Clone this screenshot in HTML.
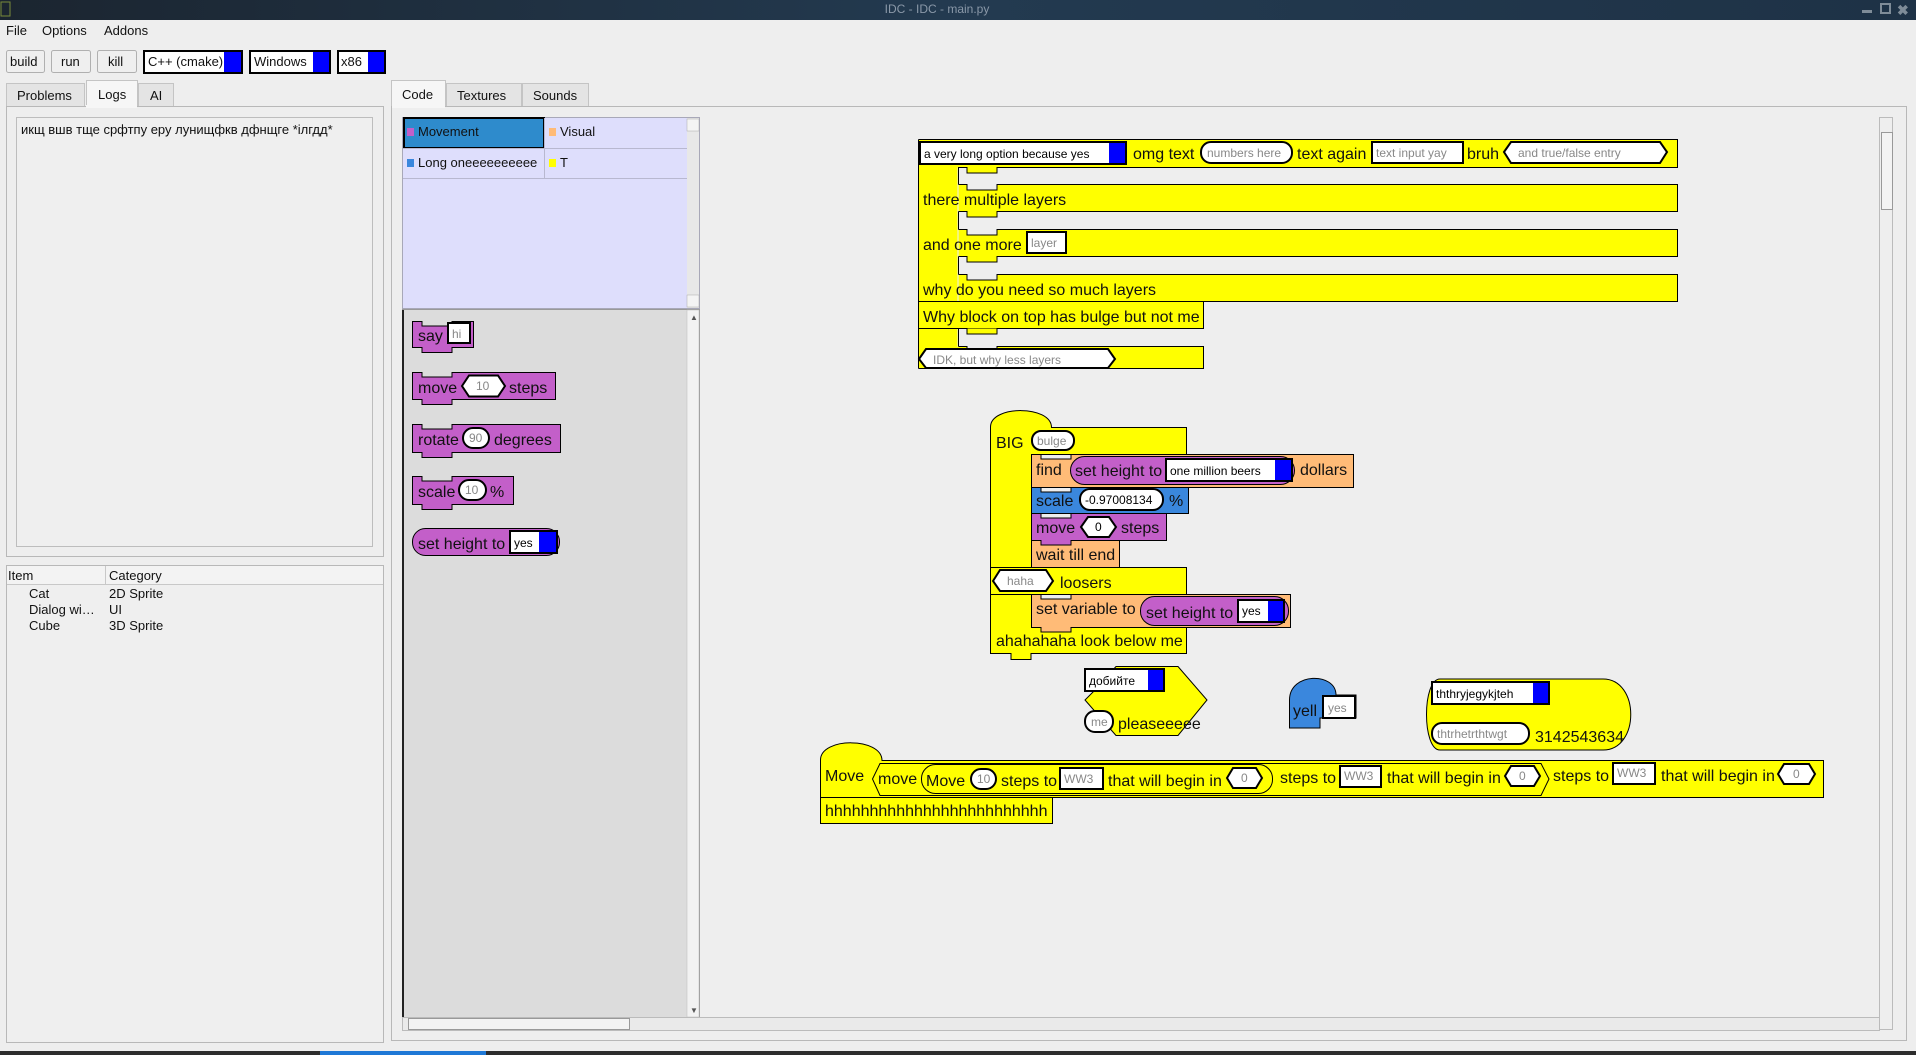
<!DOCTYPE html>
<html><head><meta charset="utf-8"><style>
html,body{margin:0;padding:0;width:1916px;height:1055px;overflow:hidden;background:#eeeeee}
svg{display:block}
.ui{font-family:"Liberation Sans","DejaVu Sans",sans-serif;font-size:13px;fill:#111}
.b{font-family:"Liberation Sans",sans-serif;font-size:16px;fill:#111}
.in{font-family:"Liberation Sans",sans-serif;font-size:12px;fill:#888}
.dd{font-family:"Liberation Sans",sans-serif;font-size:12px;fill:#000}
</style></head><body>
<svg width="1916" height="1055" viewBox="0 0 1916 1055" xmlns="http://www.w3.org/2000/svg">
<defs><linearGradient id="tg" x1="0" x2="1"><stop offset="0" stop-color="#1b2530"/><stop offset="0.5" stop-color="#233a50"/><stop offset="1" stop-color="#1e3246"/></linearGradient></defs>
<!-- title bar -->
<rect x="0" y="0" width="1916" height="20" fill="url(#tg)"/>
<rect x="1" y="2" width="9" height="14" fill="none" stroke="#7a8a3a"/>
<text x="937" y="13" text-anchor="middle" style="font-family:'Liberation Sans',sans-serif;font-size:12px;fill:#8a98a8">IDC - IDC - main.py</text>
<rect x="1862" y="10" width="10" height="3" fill="#7f8c98"/>
<rect x="1881" y="4" width="9" height="9" fill="none" stroke="#7f8c98" stroke-width="2"/>
<text x="1897" y="15" style="font-family:sans-serif;font-size:14px;fill:#7f8c98;font-weight:bold">✖</text>
<!-- menu -->
<text class="ui" x="6" y="35">File</text><text class="ui" x="42" y="35">Options</text><text class="ui" x="104" y="35">Addons</text>
<!-- toolbar -->
<rect x="6.5" y="50.5" width="38" height="22" rx="2" fill="#efefef" stroke="#b0b0b0"/><text class="ui" x="10" y="66">build</text>
<rect x="51.5" y="50.5" width="39" height="22" rx="2" fill="#efefef" stroke="#b0b0b0"/><text class="ui" x="61" y="66">run</text>
<rect x="97.5" y="50.5" width="39" height="22" rx="2" fill="#efefef" stroke="#b0b0b0"/><text class="ui" x="108" y="66">kill</text>
<rect x="144" y="51" width="98" height="22" fill="#fff" stroke="#000" stroke-width="2"/><rect x="224" y="52" width="17" height="20" fill="#0000ff"/><text class="ui" x="148" y="66">C++ (cmake)</text>
<rect x="250" y="51" width="80" height="22" fill="#fff" stroke="#000" stroke-width="2"/><rect x="313" y="52" width="16" height="20" fill="#0000ff"/><text class="ui" x="254" y="66">Windows</text>
<rect x="338" y="51" width="47" height="22" fill="#fff" stroke="#000" stroke-width="2"/><rect x="368" y="52" width="16" height="20" fill="#0000ff"/><text class="ui" x="341" y="66">x86</text>
<!-- left tabs -->
<rect x="6.5" y="83.5" width="78" height="23" fill="#e4e4e4" stroke="#c4c4c4"/><text class="ui" x="17" y="100">Problems</text>
<rect x="86.5" y="80.5" width="51" height="26" fill="#f6f6f6" stroke="#c4c4c4"/><text class="ui" x="98" y="99">Logs</text>
<rect x="138.5" y="83.5" width="35" height="23" fill="#e4e4e4" stroke="#c4c4c4"/><text class="ui" x="150" y="100">AI</text>
<rect x="6.5" y="106.5" width="377" height="450" fill="#eeeeee" stroke="#b8b8b8"/>
<rect x="86" y="105" width="51" height="3" fill="#f6f6f6"/>
<rect x="16.5" y="117.5" width="356" height="429" fill="#efefef" stroke="#bdbdbd"/>
<text class="ui" x="21" y="134">икщ вшв тще срфтпу еру лунищфкв дфнщге *ілгдд*</text>
<!-- tree -->
<rect x="6.5" y="565.5" width="377" height="477" fill="#efefef" stroke="#b8b8b8"/>
<rect x="7" y="566" width="376" height="18" fill="#f3f3f3"/><line x1="7" y1="584.5" x2="383" y2="584.5" stroke="#c8c8c8"/>
<line x1="105.5" y1="566" x2="105.5" y2="584" stroke="#c8c8c8"/>
<text class="ui" x="8" y="580">Item</text><text class="ui" x="109" y="580">Category</text>
<text class="ui" x="29" y="598">Cat</text><text class="ui" x="109" y="598">2D Sprite</text>
<text class="ui" x="29" y="614">Dialog wi…</text><text class="ui" x="109" y="614">UI</text>
<text class="ui" x="29" y="630">Cube</text><text class="ui" x="109" y="630">3D Sprite</text>
<!-- right tabs -->
<rect x="391.5" y="80.5" width="54" height="26" fill="#f6f6f6" stroke="#c4c4c4"/><text class="ui" x="402" y="99">Code</text>
<rect x="446.5" y="83.5" width="75" height="23" fill="#e4e4e4" stroke="#c4c4c4"/><text class="ui" x="457" y="100">Textures</text>
<rect x="522.5" y="83.5" width="66" height="23" fill="#e4e4e4" stroke="#c4c4c4"/><text class="ui" x="533" y="100">Sounds</text>
<rect x="391.5" y="106.5" width="1515" height="934" fill="#eeeeee" stroke="#b8b8b8"/>
<rect x="392" y="105" width="53" height="3" fill="#f6f6f6"/>
<!-- category list -->
<rect x="402.5" y="117.5" width="297" height="191" fill="#dedefc" stroke="#a8a8b8"/>
<rect x="404" y="118" width="140" height="30" fill="#2e8bcc" stroke="#000" stroke-width="2"/>
<rect x="407" y="128" width="7" height="8" fill="#c35fc9"/><text class="ui" x="418" y="136">Movement</text>
<rect x="549" y="128" width="7" height="8" fill="#ffbb77"/><text class="ui" x="560" y="136">Visual</text>
<line x1="544.5" y1="118" x2="544.5" y2="178" stroke="#b8b8d0"/>
<line x1="403" y1="148.5" x2="687" y2="148.5" stroke="#b8b8d0"/><line x1="403" y1="178.5" x2="687" y2="178.5" stroke="#b8b8d0"/>
<rect x="407" y="159" width="7" height="8" fill="#3a87dd"/><text class="ui" x="418" y="167">Long oneeeeeeeeee</text>
<rect x="549" y="159" width="7" height="8" fill="#ffff00"/><text class="ui" x="560" y="167">T</text>
<rect x="687" y="118" width="12" height="190" fill="#e8e8e8"/><rect x="687" y="119" width="12" height="12" fill="#f4f4f4" stroke="#aaa" stroke-width="0.5"/><rect x="687" y="295" width="12" height="12" fill="#f4f4f4" stroke="#aaa" stroke-width="0.5"/>
<!-- palette -->
<rect x="402.5" y="309.5" width="297" height="708" fill="#dcdcdc" stroke="#999"/>
<line x1="403" y1="310" x2="403" y2="1017" stroke="#222" stroke-width="2"/>
<rect x="687" y="310" width="12" height="707" fill="#f2f2f2" stroke="#bbb" stroke-width="0.5"/>
<text x="690" y="320" style="font-size:8px;fill:#555">▲</text><text x="690" y="1013" style="font-size:8px;fill:#555">▼</text>
<!-- palette blocks -->
<g stroke="#000" stroke-width="1">
<path d="M412.5,321.5 H422 V326 H452 V321.5 H473.5 V347.5 H452 V352.5 H422 V347.5 H412.5 Z" fill="#c35fc9"/>
<rect x="448" y="323" width="22" height="20" fill="#fff" stroke-width="2"/>
<path d="M412.5,372.5 H422 V377 H452 V372.5 H555.5 V399.5 H452 V404.5 H422 V399.5 H412.5 Z" fill="#c35fc9"/>
<polygon points="462,386 469,375.5 498,375.5 505,386 498,396.5 469,396.5" fill="#fff" stroke-width="2"/>
<path d="M412.5,424.5 H422 V429 H452 V424.5 H560.5 V452.5 H452 V457.5 H422 V452.5 H412.5 Z" fill="#c35fc9"/>
<rect x="463" y="428" width="26" height="20" rx="10" fill="#fff" stroke-width="2"/>
<path d="M412.5,476.5 H422 V481 H452 V476.5 H513.5 V504.5 H452 V509.5 H422 V504.5 H412.5 Z" fill="#c35fc9"/>
<rect x="459" y="480" width="27" height="20" rx="10" fill="#fff" stroke-width="2"/>
<rect x="412.5" y="528.5" width="147" height="27" rx="13" fill="#c35fc9"/>
<rect x="510" y="531" width="47" height="22" fill="#fff" stroke-width="2"/><rect x="539" y="532" width="17" height="20" fill="#0000ff" stroke="none"/>
</g>
<text class="b" x="418" y="341">say</text><text class="in" x="452" y="338">hi</text>
<text class="b" x="418" y="393">move</text><text class="in" x="476" y="390">10</text><text class="b" x="509" y="393">steps</text>
<text class="b" x="418" y="445">rotate</text><text class="in" x="469" y="442">90</text><text class="b" x="494" y="445">degrees</text>
<text class="b" x="418" y="497">scale</text><text class="in" x="465" y="494">10</text><text class="b" x="490" y="497">%</text>
<text class="b" x="418" y="549">set height to</text><text class="dd" x="514" y="547">yes</text>
<!-- canvas scrollbars -->
<rect x="402.5" y="1017.5" width="1477" height="13" fill="#eaeaea" stroke="#bbb"/>
<rect x="408.5" y="1018.5" width="221" height="11" fill="#f3f3f3" stroke="#999"/>
<rect x="1879.5" y="117.5" width="13" height="912" fill="#eeeeee" stroke="#bbb"/>
<rect x="1881.5" y="132.5" width="11" height="77" fill="#f3f3f3" stroke="#999"/>
<!-- BLOCK 1 yellow layered -->
<g stroke="#000" stroke-width="1" fill="#ffff00">
<rect x="918.5" y="139.5" width="39" height="229" stroke="none"/>
<line x1="918.5" y1="139.5" x2="918.5" y2="368.5"/>
<path d="M918.5,139.5 H1677.5 V167.5 H997 V173 H967 V167.5 H958"/>
<rect x="958.5" y="167.5" width="1" height="0" />
<path d="M958.5,167.5 V184.5 M958.5,211.5 V229.5 M958.5,256.5 V274.5 M958.5,328.5 V346.5" fill="none"/>
<path d="M958.5,184.5 H967 V190 H997 V184.5 H1677.5 V211.5 H997 V217 H967 V211.5 H958.5" />
<path d="M958.5,229.5 H967 V235 H997 V229.5 H1677.5 V256.5 H997 V262 H967 V256.5 H958.5" />
<path d="M958.5,274.5 H967 V280 H997 V274.5 H1677.5 V301.5 H958.5" />
<path d="M918.5,301.5 H948 V306 H918.5 Z" fill="none"/>
<rect x="918.5" y="301.5" width="285" height="27"/>
<path d="M997,328.5 V334 H967 V328.5" fill="#ffff00"/>
<path d="M958.5,346.5 H967 V352 H997 V346.5 H1203.5 V368.5 H918.5" />
</g>
<rect x="919" y="302" width="38" height="26" fill="#ffff00"/>
<g stroke="#000" stroke-width="2">
<rect x="920" y="142" width="206" height="22" fill="#fff"/><rect x="1109" y="143" width="16" height="20" fill="#0000ff" stroke="none"/>
<rect x="1201" y="142" width="91" height="21" rx="10" fill="#fff"/>
<rect x="1372" y="142" width="91" height="21" fill="#fff"/>
<polygon points="1504,152 1511,142 1660,142 1667,152 1660,163 1511,163" fill="#fff"/>
<rect x="1027" y="232" width="39" height="21" fill="#fff"/>
<polygon points="919,359 926,349 1108,349 1115,359 1108,368 926,368" fill="#fff"/>
</g>
<text class="dd" x="924" y="158">a very long option because yes</text>
<text class="b" x="1133" y="159">omg text</text><text class="in" x="1207" y="157">numbers here</text>
<text class="b" x="1297" y="159">text again</text><text class="in" x="1376" y="157">text input yay</text>
<text class="b" x="1467" y="159">bruh</text><text class="in" x="1518" y="157">and true/false entry</text>
<text class="b" x="923" y="205">there multiple layers</text>
<text class="b" x="923" y="250">and one more</text><text class="in" x="1031" y="247">layer</text>
<text class="b" x="923" y="295">why do you need so much layers</text>
<text class="b" x="923" y="322">Why block on top has bulge but not me</text>
<text class="in" x="933" y="364">IDK, but why less layers</text>
<!-- BIG block -->
<g stroke="#000" stroke-width="1">
<path d="M990.5,653.5 V427 C990.5,405 1051.5,405 1051.5,427.5 H1186.5 V454.5 H1031.5 V627.5 H1186.5 V653.5 H1031 V659.5 H1011 V653.5 Z" fill="#ffff00"/>
<rect x="990.5" y="567.5" width="196" height="27" fill="#ffff00"/>
<rect x="991" y="568" width="40" height="25" fill="#ffff00" stroke="none"/>
<path d="M1031.5,454.5 H1041 V459 H1071 V454.5 H1353.5 V487.5 H1031.5 Z" fill="#ffbb77"/>
<path d="M1031.5,487.5 H1041 V492 H1071 V487.5 H1188.5 V513.5 H1031.5 Z" fill="#3a87dd"/>
<path d="M1031.5,513.5 H1041 V518 H1071 V513.5 H1166.5 V540.5 H1071 V545 H1041 V540.5 H1031.5 Z" fill="#c35fc9"/>
<path d="M1031.5,540.5 H1041 V545 H1071 V540.5 H1119.5 V567.5 H1031.5 Z" fill="#ffbb77"/>
<path d="M1031.5,594.5 H1041 V599 H1071 V594.5 H1290.5 V627.5 H1071 V632 H1041 V627.5 H1031.5 Z" fill="#ffbb77"/>
<rect x="1070.5" y="456.5" width="224" height="28" rx="14" fill="#c35fc9"/>
<rect x="1140.5" y="596.5" width="148" height="29" rx="14" fill="#c35fc9"/>
</g>
<g stroke="#000" stroke-width="2">
<rect x="1032" y="431" width="42" height="19" rx="9" fill="#fff"/>
<rect x="1166" y="459" width="126" height="22" fill="#fff"/><rect x="1275" y="460" width="16" height="20" fill="#0000ff" stroke="none"/>
<rect x="1080" y="489" width="83" height="21" rx="10" fill="#fff"/>
<polygon points="1081,527 1088,517 1109,517 1116,527 1109,537 1088,537" fill="#fff"/>
<polygon points="993,581 1000,570 1046,570 1053,581 1046,591 1000,591" fill="#fff"/>
<rect x="1238" y="600" width="46" height="22" fill="#fff"/><rect x="1268" y="601" width="15" height="20" fill="#0000ff" stroke="none"/>
</g>
<text class="b" x="996" y="448">BIG</text><text class="in" x="1037" y="445">bulge</text>
<text class="b" x="1036" y="475">find</text><text class="b" x="1075" y="476">set height to</text><text class="dd" x="1170" y="475">one million beers</text><text class="b" x="1300" y="475">dollars</text>
<text class="b" x="1036" y="506">scale</text><text class="dd" x="1085" y="504">-0.97008134</text><text class="b" x="1169" y="506">%</text>
<text class="b" x="1036" y="533">move</text><text class="dd" x="1095" y="531">0</text><text class="b" x="1121" y="533">steps</text>
<text class="b" x="1036" y="560">wait till end</text>
<text class="in" x="1007" y="585">haha</text><text class="b" x="1060" y="588">loosers</text>
<text class="b" x="1036" y="614">set variable to</text><text class="b" x="1146" y="618">set height to</text><text class="dd" x="1242" y="615">yes</text>
<text class="b" x="996" y="646">ahahahaha look below me</text>
<!-- добийте -->
<g stroke="#000" stroke-width="1">
<polygon points="1116,666.5 1178,666.5 1207,700 1178,735.5 1116,735.5 1085,700 1095,690" fill="#ffff00"/>
<path d="M1289.5,728 V700 C1289.5,672 1336,672 1336,695 H1356 V718 H1320 V728 Z" fill="#3a87dd"/>
<path d="M1440,679 H1603 C1640,679 1640,750 1603,750 H1440 C1422,750 1422,679 1440,679 Z" fill="#ffff00"/>
</g>
<g stroke="#000" stroke-width="2">
<rect x="1085" y="669" width="79" height="22" fill="#fff"/><rect x="1148" y="670" width="15" height="20" fill="#0000ff" stroke="none"/>
<rect x="1085" y="711" width="28" height="21" rx="10" fill="#fff"/>
<rect x="1323" y="696" width="32" height="22" fill="#fff"/>
<rect x="1432" y="682" width="117" height="22" fill="#fff"/><rect x="1533" y="683" width="15" height="20" fill="#0000ff" stroke="none"/>
<rect x="1432" y="723" width="97" height="21" rx="10" fill="#fff"/>
</g>
<text class="dd" x="1089" y="685">добийте</text>
<text class="in" x="1091" y="726">me</text><text class="b" x="1118" y="729">pleaseeeee</text>
<text class="b" x="1293" y="716">yell</text><text class="in" x="1328" y="712">yes</text>
<text class="dd" x="1436" y="698">ththryjegykjteh</text>
<text class="in" x="1437" y="738">thtrhetrthtwgt</text><text class="b" x="1535" y="742">3142543634</text>
<!-- Move big block -->
<g stroke="#000" stroke-width="1">
<path d="M820.5,797.5 V760 C820.5,737 882,737 882,760.5 H1823.5 V797.5 H1052.5 V823.5 H820.5 Z" fill="#ffff00"/>
<line x1="820.5" y1="797.5" x2="1052.5" y2="797.5"/>
<polygon points="872.5,779 880,763.5 1541,763.5 1549,779 1541,795.5 880,795.5" fill="#ffff00"/>
<rect x="921.5" y="764.5" width="351" height="29" rx="14" fill="#ffff00"/>
</g>
<g stroke="#000" stroke-width="2">
<rect x="971" y="769" width="25" height="20" rx="10" fill="#fff"/>
<rect x="1060" y="768" width="43" height="21" fill="#fff"/>
<polygon points="1227,778 1233,768 1256,768 1262,778 1256,788 1233,788" fill="#fff"/>
<rect x="1340" y="766" width="41" height="21" fill="#fff"/>
<polygon points="1505,776 1511,766 1534,766 1540,776 1534,786 1511,786" fill="#fff"/>
<rect x="1613" y="763" width="42" height="21" fill="#fff"/>
<polygon points="1778,774 1784,764 1809,764 1815,774 1809,784 1784,784" fill="#fff"/>
</g>
<text class="b" x="825" y="781">Move</text><text class="b" x="878" y="784">move</text>
<text class="b" x="926" y="786">Move</text><text class="in" x="977" y="783">10</text><text class="b" x="1001" y="786">steps to</text>
<text class="in" x="1064" y="783">WW3</text><text class="b" x="1108" y="786">that will begin in</text><text class="in" x="1241" y="782">0</text>
<text class="b" x="1280" y="783">steps to</text><text class="in" x="1344" y="780">WW3</text><text class="b" x="1387" y="783">that will begin in</text><text class="in" x="1519" y="780">0</text>
<text class="b" x="1553" y="781">steps to</text><text class="in" x="1617" y="777">WW3</text><text class="b" x="1661" y="781">that will begin in</text><text class="in" x="1793" y="778">0</text>
<text class="b" x="825" y="816">hhhhhhhhhhhhhhhhhhhhhhhhh</text>
<!-- taskbar -->
<rect x="0" y="1051" width="1916" height="4" fill="#2d2d2d"/><rect x="320" y="1051" width="166" height="4" fill="#1e78d6"/>
</svg>
</body></html>
